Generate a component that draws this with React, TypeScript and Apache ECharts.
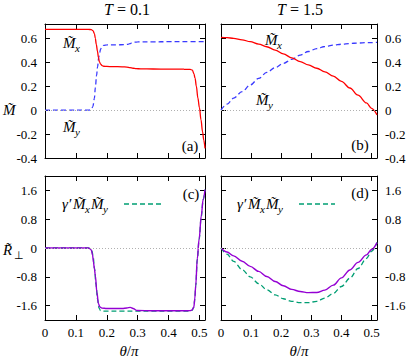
import React, { useEffect, useRef } from "react";
import * as echarts from "echarts";

// ---------- data ----------
const xTicks = [0, 0.1, 0.2, 0.3, 0.4, 0.5];
const yTicksM = [-0.4, -0.2, 0, 0.2, 0.4, 0.6];
const yTicksR = [-1.6, -0.8, 0, 0.8, 1.6];

// panel (a) T = 0.1
const thetaMxA = [0, 0.05, 0.1, 0.14, 0.15, 0.155, 0.16, 0.163, 0.166, 0.17, 0.173, 0.176, 0.18, 0.185, 0.19, 0.2, 0.22, 0.25, 0.265, 0.275, 0.285, 0.295, 0.31, 0.35, 0.4, 0.45, 0.47, 0.477, 0.482, 0.486, 0.49, 0.495, 0.5, 0.505, 0.51, 0.514, 0.518];
const mxA = [0.675, 0.675, 0.675, 0.675, 0.673, 0.665, 0.64, 0.6, 0.55, 0.49, 0.44, 0.405, 0.385, 0.372, 0.367, 0.365, 0.364, 0.362, 0.36, 0.356, 0.35, 0.347, 0.345, 0.344, 0.343, 0.342, 0.34, 0.335, 0.305, 0.265, 0.2, 0.1, 0.02, -0.08, -0.18, -0.25, -0.32];
const thetaMyA = [0, 0.1, 0.14, 0.146, 0.15, 0.155, 0.16, 0.163, 0.167, 0.17, 0.174, 0.177, 0.18, 0.184, 0.19, 0.2, 0.23, 0.26, 0.268, 0.275, 0.282, 0.29, 0.3, 0.35, 0.4, 0.45, 0.518];
const myA = [0, 0, 0, 0.002, 0.008, 0.03, 0.1, 0.19, 0.29, 0.36, 0.44, 0.48, 0.51, 0.53, 0.542, 0.545, 0.546, 0.547, 0.55, 0.556, 0.563, 0.568, 0.57, 0.571, 0.572, 0.572, 0.572];

// panel (b) T = 1.5
const thetaB = [0, 0.02, 0.042, 0.07, 0.097, 0.125, 0.152, 0.18, 0.207, 0.235, 0.263, 0.29, 0.318, 0.345, 0.373, 0.4, 0.428, 0.455, 0.483, 0.5, 0.518];
const mxB = [0.608, 0.606, 0.6, 0.588, 0.572, 0.552, 0.53, 0.502, 0.47, 0.437, 0.405, 0.378, 0.35, 0.32, 0.285, 0.24, 0.185, 0.125, 0.06, 0.015, -0.04];
const myB = [0, 0.05, 0.1, 0.155, 0.21, 0.265, 0.315, 0.355, 0.39, 0.425, 0.46, 0.49, 0.515, 0.532, 0.543, 0.551, 0.557, 0.561, 0.564, 0.565, 0.566];

// panel (c) T = 0.1
const thetaRC = [0, 0.1, 0.14, 0.146, 0.15, 0.154, 0.157, 0.16, 0.163, 0.168, 0.173, 0.178, 0.184, 0.2, 0.25, 0.265, 0.276, 0.285, 0.298, 0.35, 0.4, 0.45, 0.47, 0.476, 0.482, 0.485, 0.488, 0.493, 0.499, 0.506, 0.512, 0.518];
const rC = [0, 0, 0, -0.02, -0.06, -0.2, -0.4, -0.58, -0.77, -1.23, -1.55, -1.64, -1.67, -1.68, -1.68, -1.665, -1.65, -1.68, -1.735, -1.745, -1.745, -1.745, -1.74, -1.72, -1.64, -1.4, -1.04, -0.3, 0.25, 0.9, 1.35, 1.62];
const thetaGC = [0, 0.1, 0.14, 0.148, 0.152, 0.156, 0.16, 0.165, 0.17, 0.175, 0.18, 0.19, 0.25, 0.3, 0.35, 0.4, 0.45, 0.47, 0.476, 0.482, 0.485, 0.488, 0.493, 0.499, 0.506, 0.512, 0.518];
const gC = [0, 0, 0, -0.02, -0.08, -0.25, -0.55, -1.0, -1.42, -1.67, -1.74, -1.755, -1.755, -1.755, -1.755, -1.755, -1.755, -1.75, -1.73, -1.64, -1.42, -1.06, -0.32, 0.24, 0.88, 1.34, 1.62];

// panel (d) T = 1.5
const thetaD = [0, 0.02, 0.042, 0.07, 0.097, 0.125, 0.152, 0.18, 0.207, 0.235, 0.263, 0.29, 0.318, 0.345, 0.373, 0.4, 0.428, 0.455, 0.483, 0.5, 0.518];
const rD = [0, -0.11, -0.22, -0.37, -0.51, -0.65, -0.79, -0.93, -1.05, -1.15, -1.21, -1.24, -1.235, -1.17, -1.03, -0.83, -0.61, -0.4, -0.19, -0.04, 0.15];
const gD = [0, -0.17, -0.37, -0.6, -0.8, -0.99, -1.16, -1.3, -1.41, -1.48, -1.52, -1.52, -1.48, -1.39, -1.26, -1.07, -0.84, -0.57, -0.29, -0.09, 0.15];

const zeroLevel = 0;

// ---------- styling ----------
const serif = "Liberation Serif";
const RED = "#ff0000";
const BLUE = "#3a3aff";
const PURPLE = "#9400d3";
const GREEN = "#009e73";
const XMAX = 0.518;

const pairs = (xs: number[], ys: number[]) => xs.map((x, i) => [x, ys[i]]);

const grids = [
  { left: 45, top: 24, width: 160, height: 134 },
  { left: 221, top: 24, width: 156, height: 134 },
  { left: 45, top: 176, width: 160, height: 144 },
  { left: 221, top: 176, width: 156, height: 144 },
];

function txt(x: number, y: number, text: string, size: number, italic: boolean, align = "left", rich?: any) {
  return {
    type: "text",
    x,
    y,
    silent: true,
    style: {
      text,
      fontFamily: serif,
      fontSize: size,
      fontStyle: italic ? "italic" : "normal",
      fill: "#000",
      align,
      verticalAlign: "middle",
      textAlign: align,
      textVerticalAlign: "middle",
      rich,
    },
  };
}

function mLabel(x: number, y: number, sub: string) {
  return [txt(x, y, "M\u0303", 15, true), txt(x + 12, y + 5, sub, 11, true)];
}

function legendLabel(x: number, y: number) {
  return [
    txt(x, y, "\u03b3\u2032", 15, true),
    ...mLabel(x + 11, y, "x"),
    ...mLabel(x + 29, y, "y"),
  ];
}

export default function App() {
  const ref = useRef<HTMLDivElement>(null);
  useEffect(() => {
    if (!ref.current) return;
    const chart = echarts.init(ref.current, null, { renderer: "svg" });

    const xAxes: any[] = [];
    const yAxes: any[] = [];
    grids.forEach((_, gi) => {
      const isTop = gi < 2;
      const isLeft = gi % 2 === 0;
      const yTicks = isTop ? yTicksM : yTicksR;
      const ymin = isTop ? -0.4 : -2;
      const ymax = isTop ? 0.72 : 2;
      const baseX = {
        type: "value",
        gridIndex: gi,
        min: 0,
        max: XMAX,
        splitLine: { show: false },
        axisLine: { show: true, onZero: false, lineStyle: { color: "#000", width: 1 } },
        axisTick: { show: true, inside: true, length: 5, customValues: xTicks, lineStyle: { color: "#000" } },
      };
      xAxes.push({
        ...baseX,
        position: "bottom",
        axisLabel: {
          show: !isTop,
          customValues: xTicks,
          margin: 6,
          color: "#000",
          fontFamily: serif,
          fontSize: 13,
          formatter: (v: number) => String(v),
        },
      });
      xAxes.push({ ...baseX, position: "top", axisLabel: { show: false } });
      const baseY = {
        type: "value",
        gridIndex: gi,
        min: ymin,
        max: ymax,
        splitLine: { show: false },
        axisLine: { show: true, onZero: false, lineStyle: { color: "#000", width: 1 } },
        axisTick: { show: true, inside: true, length: 5, customValues: yTicks, lineStyle: { color: "#000" } },
      };
      const lbl = (show: boolean) => ({
        show,
        customValues: yTicks,
        margin: 8,
        color: "#000",
        fontFamily: serif,
        fontSize: 13,
        formatter: (v: number) => String(v),
      });
      yAxes.push({ ...baseY, position: "left", axisLabel: lbl(isLeft) });
      yAxes.push({ ...baseY, position: "right", axisLabel: lbl(!isLeft) });
    });

    const zeroMark = {
      silent: true,
      symbol: "none",
      label: { show: false },
      lineStyle: { color: "#b0b0b0", type: [1, 2], width: 1 },
      data: [{ yAxis: zeroLevel }],
    };

    const line = (gi: number, data: number[][], color: string, dashed: boolean, width: number, mark = false) => ({
      type: "line",
      xAxisIndex: gi * 2,
      yAxisIndex: gi * 2,
      data,
      showSymbol: false,
      symbol: "none",
      smooth: 0.35,
      smoothMonotone: "x",
      clip: true,
      lineStyle: { color, width, type: dashed ? [5, 3] : "solid" },
      z: dashed ? 3 : 4,
      markLine: mark ? zeroMark : undefined,
    });

    const series = [
      line(0, pairs(thetaMyA, myA), BLUE, true, 1.3, true),
      line(0, pairs(thetaMxA, mxA), RED, false, 1.3),
      line(1, pairs(thetaB, myB), BLUE, true, 1.3, true),
      line(1, pairs(thetaB, mxB), RED, false, 1.3),
      line(2, pairs(thetaGC, gC), GREEN, true, 1.3, true),
      line(2, pairs(thetaRC, rC), PURPLE, false, 1.4),
      line(3, pairs(thetaD, gD), GREEN, true, 1.3, true),
      line(3, pairs(thetaD, rD), PURPLE, false, 1.4),
    ];

    const titleRich = { i: { fontStyle: "italic", fontFamily: serif, fontSize: 16 }, n: { fontFamily: serif, fontSize: 16 } };
    const thetaRich = { i: { fontStyle: "italic", fontFamily: serif, fontSize: 15 }, n: { fontFamily: serif, fontSize: 15 } };

    const graphic: any[] = [
      txt(127, 9, "{i|T}{n| = 0.1}", 16, false, "center", titleRich),
      txt(300, 9, "{i|T}{n| = 1.5}", 16, false, "center", titleRich),
      txt(129, 351, "{i|\u03b8}{n|/}{i|\u03c0}", 15, false, "center", thetaRich),
      txt(299, 351, "{i|\u03b8}{n|/}{i|\u03c0}", 15, false, "center", thetaRich),
      txt(3, 110, "M\u0303", 15, true),
      txt(3, 250, "R\u0303", 15, true),
      txt(14, 255, "\u22a5", 11, false),
      ...mLabel(63, 43, "x"),
      ...mLabel(63, 127, "y"),
      ...mLabel(265, 40, "x"),
      ...mLabel(256, 100, "y"),
      txt(190, 146, "(a)", 15, false, "center"),
      txt(360, 145, "(b)", 15, false, "center"),
      txt(191, 194, "(c)", 15, false, "center"),
      txt(360, 193, "(d)", 15, false, "center"),
      ...legendLabel(62, 204),
      ...legendLabel(237, 204),
      {
        type: "line",
        silent: true,
        shape: { x1: 124, y1: 204, x2: 161, y2: 204 },
        style: { stroke: GREEN, lineWidth: 1.3, lineDash: [5, 3] },
      },
      {
        type: "line",
        silent: true,
        shape: { x1: 299, y1: 204, x2: 335, y2: 204 },
        style: { stroke: GREEN, lineWidth: 1.3, lineDash: [5, 3] },
      },
    ];

    chart.setOption({
      animation: false,
      backgroundColor: "#fff",
      grid: grids.map((g) => ({ ...g, containLabel: false })),
      xAxis: xAxes,
      yAxis: yAxes,
      series,
      graphic,
    });
    return () => chart.dispose();
  }, []);
  return (
    <div
      ref={ref}
      style={{ position: "absolute", left: 0, top: 0, width: 411, height: 361, background: "#fff" }}
    />
  );
}
